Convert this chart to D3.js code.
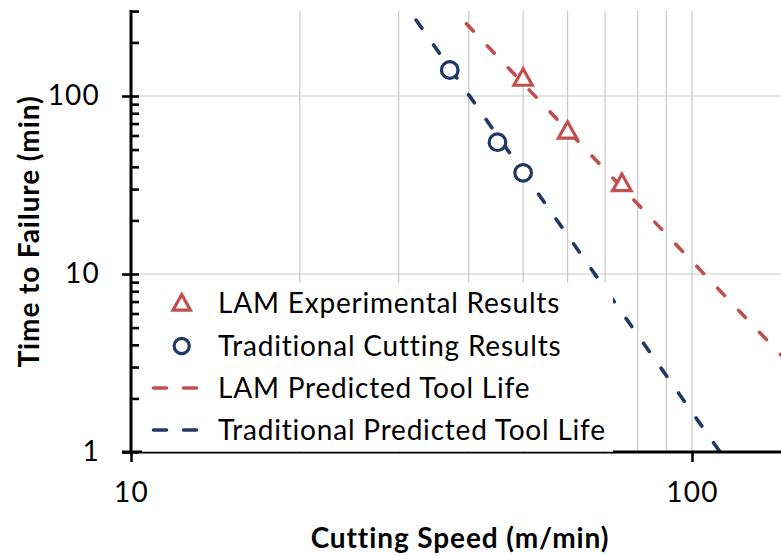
<!DOCTYPE html>
<html>
<head>
<meta charset="utf-8">
<script src="https://cdn.jsdelivr.net/npm/d3@7/dist/d3.min.js"></script>
<style>
  html, body { margin: 0; padding: 0; background: #fff; }
  svg { display: block; }
  text { font-family: Lato, "Open Sans", sans-serif; fill: #000; }
</style>
</head>
<body>
<svg id="chart" width="781" height="556"></svg>
<script>
// Tool-life measurements (cutting speed in m/min, time to failure in min)
const lamSpeed = [50, 60, 75];
const lamLife = [125, 63, 32];
const tradSpeed = [37, 45, 50];
const tradLife = [140, 55, 37];

// Fitted Taylor tool-life lines, given by their end points
const lamPredSpeed = [37.7, 150];
const lamPredLife = [300, 3.07];
const tradPredSpeed = [31.4, 112.2];
const tradPredLife = [300, 1];

// Axis ticks
const xMajorTicks = [10, 100];
const xGridTicks = [20, 30, 40, 50, 60, 70, 80, 90, 100];
const yMajorTicks = [1, 10, 100];
const yMinorTicks = [2, 3, 4, 5, 6, 7, 8, 9, 20, 30, 40, 50, 60, 70, 80, 90, 200, 300];

const legendLabels = [
  "LAM Experimental Results",
  "Traditional Cutting Results",
  "LAM Predicted Tool Life",
  "Traditional Predicted Tool Life"
];

const RED = "#C0504D";
const NAVY = "#1F3864";
const GRID = "#C8C8C8";

const svg = d3.select("#chart");
const W = 781, H = 556;

const plotLeft = 131, plotBottom = 452;
const xDecade = 561, yDecade = 178;

const x = d3.scaleLog().domain([10, 150]).range([plotLeft, plotLeft + xDecade * Math.log10(15)]);
const y = d3.scaleLog().domain([1, 300]).range([plotBottom, plotBottom - yDecade * Math.log10(300)]);
const plotTop = y(300);

svg.append("defs").append("clipPath").attr("id", "plotClip")
  .append("rect")
  .attr("x", plotLeft).attr("y", plotTop)
  .attr("width", W - plotLeft).attr("height", plotBottom - plotTop);

// Grid lines
const grid = svg.append("g");
grid.selectAll("line.vg").data(xGridTicks).join("line")
  .attr("class", "vg")
  .attr("x1", d => x(d)).attr("x2", d => x(d))
  .attr("y1", plotTop).attr("y2", plotBottom)
  .attr("stroke", GRID).attr("stroke-width", 1.2);
grid.selectAll("line.hg").data([10, 100]).join("line")
  .attr("class", "hg")
  .attr("x1", plotLeft).attr("x2", W)
  .attr("y1", d => y(d)).attr("y2", d => y(d))
  .attr("stroke", GRID).attr("stroke-width", 1.2);

// Predicted tool-life lines
const plot = svg.append("g").attr("clip-path", "url(#plotClip)");
const line = d3.line().x(d => x(d[0])).y(d => y(d[1]));
const dash = "10 20.4";

plot.append("path")
  .datum(d3.zip(lamPredSpeed, lamPredLife))
  .attr("d", line)
  .attr("fill", "none").attr("stroke", RED)
  .attr("stroke-width", 3.6).attr("stroke-linecap", "round")
  .attr("stroke-dasharray", dash).attr("stroke-dashoffset", 12.9);

plot.append("path")
  .datum(d3.zip(tradPredSpeed, tradPredLife))
  .attr("d", line)
  .attr("fill", "none").attr("stroke", NAVY)
  .attr("stroke-width", 3.6).attr("stroke-linecap", "round")
  .attr("stroke-dasharray", dash).attr("stroke-dashoffset", 19.4);

// Marker shapes
const triPath = s => `M0,${-9 * s}L${9.2 * s},${7.5 * s}L${-9.2 * s},${7.5 * s}Z`;

plot.selectAll("path.tri").data(d3.zip(lamSpeed, lamLife)).join("path")
  .attr("class", "tri")
  .attr("transform", d => `translate(${x(d[0])},${y(d[1]) - 1})`)
  .attr("d", triPath(1))
  .attr("fill", "#fff").attr("stroke", RED).attr("stroke-width", 3.2)
  .attr("stroke-linejoin", "miter");

plot.selectAll("circle.pt").data(d3.zip(tradSpeed, tradLife)).join("circle")
  .attr("class", "pt")
  .attr("cx", d => x(d[0])).attr("cy", d => y(d[1]))
  .attr("r", 8.3)
  .attr("fill", "#fff").attr("stroke", NAVY).attr("stroke-width", 3.2);

// Legend (white box over the plot)
const legend = svg.append("g");
legend.append("rect")
  .attr("x", 142).attr("y", 283)
  .attr("width", 613 - 142).attr("height", 451.3 - 283)
  .attr("fill", "#fff");

const rowY = [303, 346, 388, 430];
const markX = 181.7;

legend.append("path")
  .attr("transform", `translate(${markX},${rowY[0]})`)
  .attr("d", triPath(0.95))
  .attr("fill", "#fff").attr("stroke", RED).attr("stroke-width", 3.2);
legend.append("circle")
  .attr("cx", markX).attr("cy", rowY[1]).attr("r", 7.6)
  .attr("fill", "#fff").attr("stroke", NAVY).attr("stroke-width", 3.2);
[[RED, rowY[2]], [NAVY, rowY[3]]].forEach(([c, yy]) => {
  legend.append("line")
    .attr("x1", 153.5).attr("x2", 198.5)
    .attr("y1", yy).attr("y2", yy)
    .attr("stroke", c).attr("stroke-width", 3.6)
    .attr("stroke-linecap", "round")
    .attr("stroke-dasharray", "13 17");
});
legend.selectAll("text").data(legendLabels).join("text")
  .attr("x", 218).attr("y", (d, i) => rowY[i])
  .attr("dy", "0.36em")
  .attr("font-size", 28)
  .attr("letter-spacing", 0.8)
  .text(d => d);

// Axes
const axes = svg.append("g");

// y axis: labelled major ticks crossing outward, minor ticks inward
const yAxisOut = axes.append("g")
  .attr("transform", `translate(${plotLeft},0)`)
  .call(d3.axisLeft(y).tickValues(yMajorTicks).tickFormat(d3.format("d"))
    .tickSize(9).tickSizeOuter(0).tickPadding(22));
const yAxisIn = axes.append("g")
  .attr("transform", `translate(${plotLeft},0)`)
  .call(d3.axisRight(y).tickValues(yMajorTicks.concat(yMinorTicks)).tickFormat("")
    .tickSize(8).tickSizeOuter(0));

const xAxis = axes.append("g")
  .attr("transform", `translate(0,${plotBottom})`)
  .call(d3.axisBottom(x).tickValues(xMajorTicks).tickFormat(d3.format("d"))
    .tickSize(10).tickSizeOuter(0).tickPadding(20));

[yAxisOut, yAxisIn, xAxis].forEach(g => {
  g.select(".domain").remove();
  g.selectAll(".tick line").attr("stroke", "#000").attr("stroke-width", 2.6);
  g.selectAll(".tick text")
    .attr("font-family", "Lato, 'Open Sans', sans-serif")
    .attr("font-size", 28).attr("letter-spacing", 1.2).attr("fill", "#000");
});

// Axis lines; the x-axis line is partly covered by the legend box
axes.append("line")
  .attr("x1", plotLeft).attr("x2", plotLeft)
  .attr("y1", plotTop - 1).attr("y2", plotBottom + 1.5)
  .attr("stroke", "#000").attr("stroke-width", 3);
axes.append("line")
  .attr("x1", plotLeft - 9).attr("x2", 142)
  .attr("y1", plotBottom).attr("y2", plotBottom)
  .attr("stroke", "#000").attr("stroke-width", 3);
axes.append("line")
  .attr("x1", 142).attr("x2", 613)
  .attr("y1", plotBottom + 0.6).attr("y2", plotBottom + 0.6)
  .attr("stroke", "#000").attr("stroke-width", 1.8);
axes.append("line")
  .attr("x1", 613).attr("x2", W)
  .attr("y1", plotBottom).attr("y2", plotBottom)
  .attr("stroke", "#000").attr("stroke-width", 3);

// Axis titles
svg.append("text")
  .attr("x", 460).attr("y", 548)
  .attr("text-anchor", "middle")
  .attr("font-size", 28).attr("font-weight", "bold")
  .attr("letter-spacing", 0.9)
  .text("Cutting Speed (m/min)");

svg.append("text")
  .attr("transform", `translate(39,${(plotTop + plotBottom) / 2}) rotate(-90)`)
  .attr("text-anchor", "middle")
  .attr("font-size", 28).attr("font-weight", "bold")
  .attr("letter-spacing", 0.9)
  .text("Time to Failure (min)");
</script>
</body>
</html>
